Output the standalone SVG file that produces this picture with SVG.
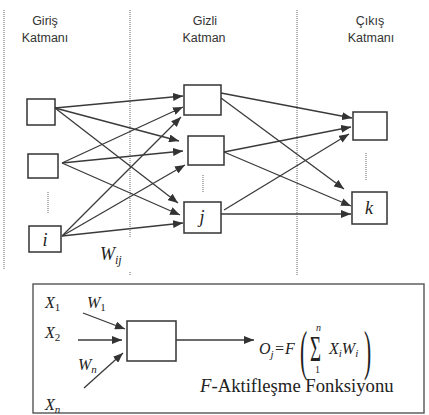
<svg xmlns="http://www.w3.org/2000/svg" width="429" height="415" viewBox="0 0 429 415">
<style>
.box{fill:#fff;stroke:#333;stroke-width:1.5}
.dot{stroke:#666;stroke-width:1;stroke-dasharray:1,1;fill:none}
.con{stroke:#3a3a3a;stroke-width:1.3;fill:none;marker-end:url(#ah)}
.lbl{font-family:"Liberation Sans",Arial,sans-serif;font-size:12.5px;fill:#333;text-anchor:middle}
.m{font-family:"Liberation Serif","Times New Roman",serif;fill:#222}
.it{font-style:italic}
</style>
<defs>
<marker id="ah" markerUnits="userSpaceOnUse" markerWidth="10" markerHeight="8" refX="10" refY="4" orient="auto">
<path d="M0,0 L10,4 L0,8 z" fill="#333"/>
</marker>
</defs>
<rect width="429" height="415" fill="#fff"/>
<g id="separators">
<line class="dot" x1="4" y1="10" x2="4" y2="270"/>
<line class="dot" x1="130" y1="10" x2="130" y2="238"/>
<line class="dot" x1="130" y1="272" x2="130" y2="275"/>
<line class="dot" x1="297" y1="10" x2="297" y2="275"/>
<line class="dot" x1="48" y1="192" x2="48" y2="213"/>
<line class="dot" x1="203" y1="175" x2="203" y2="192"/>
<line class="dot" x1="366" y1="153" x2="366" y2="180"/>
</g>
<g id="layer-labels">
<text class="lbl" x="45" y="25">Giriş</text>
<text class="lbl" x="45" y="41.5">Katmanı</text>
<text class="lbl" x="205" y="25">Gizli</text>
<text class="lbl" x="204" y="41.5">Katman</text>
<text class="lbl" x="370" y="25">Çıkış</text>
<text class="lbl" x="371" y="41.5">Katmanı</text>
</g>
<g id="connectors">
<line class="con" x1="55" y1="108" x2="183" y2="96"/>
<line class="con" x1="55" y1="108" x2="179" y2="141"/>
<line class="con" x1="55" y1="108" x2="178" y2="203"/>
<line class="con" x1="62" y1="163" x2="183" y2="107"/>
<line class="con" x1="62" y1="163" x2="183" y2="151"/>
<line class="con" x1="62" y1="163" x2="180" y2="215"/>
<line class="con" x1="62" y1="236" x2="181" y2="117"/>
<line class="con" x1="62" y1="236" x2="185" y2="165"/>
<line class="con" x1="62" y1="236" x2="183" y2="223"/>
<line class="con" x1="221" y1="93" x2="352" y2="118"/>
<line class="con" x1="221" y1="98" x2="344" y2="189"/>
<line class="con" x1="224" y1="152" x2="351" y2="127"/>
<line class="con" x1="224" y1="152" x2="351" y2="206"/>
<line class="con" x1="224" y1="210" x2="349" y2="134"/>
<line class="con" x1="221" y1="214" x2="351" y2="214"/>
</g>
<g id="in1"><rect class="box" x="27" y="99" width="28" height="26"/></g>
<g id="in2"><rect class="box" x="28" y="154" width="30" height="24"/></g>
<g id="in-i"><rect class="box" x="29" y="226" width="32" height="26"/><text class="m it" x="45" y="246" font-size="18" text-anchor="middle">i</text></g>
<g id="h1"><rect class="box" x="184" y="85" width="37" height="30"/></g>
<g id="h2"><rect class="box" x="188" y="136" width="36" height="29"/></g>
<g id="h-j"><rect class="box" x="184" y="202" width="37" height="31"/><text class="m it" x="202" y="223" font-size="18" text-anchor="middle">j</text></g>
<g id="o1"><rect class="box" x="353" y="112" width="34" height="28"/></g>
<g id="o-k"><rect class="box" x="352" y="192" width="35" height="32"/><text class="m it" x="369" y="214" font-size="18" text-anchor="middle">k</text></g>
<g id="wij-label"><text class="m it" x="100" y="260" font-size="18">W<tspan font-size="12" dy="4">ij</tspan></text></g>
<g id="neuron-panel">
<rect x="33" y="284" width="391" height="129" fill="none" stroke="#555" stroke-width="1.4"/>
<rect class="box" x="127" y="321" width="49" height="40"/>
<line class="con" x1="83" y1="313" x2="125" y2="329"/>
<line class="con" x1="78" y1="340" x2="122" y2="340"/>
<line class="con" x1="84" y1="388" x2="123" y2="353"/>
<line class="con" x1="176" y1="340" x2="254" y2="340"/>
<text class="m it" x="45" y="308" font-size="16">X<tspan font-size="11" dy="3" font-style="normal">1</tspan></text>
<text class="m it" x="87" y="308" font-size="16">W<tspan font-size="11" dy="3" font-style="normal">1</tspan></text>
<text class="m it" x="45" y="338" font-size="16">X<tspan font-size="11" dy="3" font-style="normal">2</tspan></text>
<text class="m it" x="78" y="370" font-size="16">W<tspan font-size="11" dy="3">n</tspan></text>
<text class="m it" x="45" y="410" font-size="16">X<tspan font-size="11" dy="3">n</tspan></text>
<text class="m it" x="259" y="354" font-size="16">O<tspan font-size="11" dy="4">j</tspan></text>
<text class="m" x="275" y="354" font-size="16">=</text>
<text class="m it" x="285" y="354" font-size="16">F</text>
<text class="m" font-size="18" transform="translate(300,369) scale(1.2,3.1)">(</text>
<text class="m" font-size="18" transform="translate(310,361) scale(1.05,2.0)">Σ</text>
<text class="m it" x="316" y="331" font-size="10">n</text>
<text class="m" x="315" y="373" font-size="10">1</text>
<text class="m it" x="329" y="354" font-size="16">X<tspan font-size="11" dy="3">i</tspan><tspan dy="-3">W</tspan><tspan font-size="11" dy="3">i</tspan></text>
<text class="m" font-size="18" transform="translate(364,369) scale(1.2,3.1)">)</text>
<text class="m" x="200" y="392" font-size="18.7"><tspan class="it">F</tspan>-Aktifleşme Fonksiyonu</text>
</g>
</svg>
